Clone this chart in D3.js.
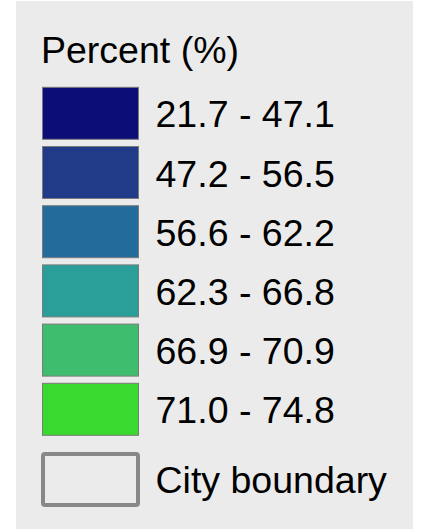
<!DOCTYPE html>
<html><head><meta charset="utf-8">
<script src="https://cdn.jsdelivr.net/npm/d3@7"></script>
<style>html,body{margin:0;padding:0;background:#fff;}svg{display:block;}</style>
</head><body>
<script>
const title = "Percent (%)";
const classLabels = ["21.7 - 47.1","47.2 - 56.5","56.6 - 62.2","62.3 - 66.8","66.9 - 70.9","71.0 - 74.8"];
const classColors = ["#0d0d78","#213b89","#226c9c","#2a9e99","#3fbd6e","#3ad92f"];
const boundaryLabel = "City boundary";

const W = 425, H = 529;
const svg = d3.select("body").append("svg").attr("width", W).attr("height", H);
svg.append("rect").attr("x",16).attr("y",1).attr("width",397).attr("height",H-1).attr("fill","#ebebeb");

const font = "'Liberation Sans', Arial, sans-serif";
const fs = 37.5;
svg.append("text").attr("x",41).attr("y",63).attr("font-family",font).attr("font-size",fs).attr("fill","#000").text(title);

const items = classLabels.map((l,i)=>({label:l,color:classColors[i]}));
const y = d3.scaleBand().domain(d3.range(items.length + 1)).range([87.3, 87.3 + 59.2*(items.length+1)]).paddingInner(0).paddingOuter(0);

const g = svg.append("g");
g.selectAll("rect.sw").data(items).join("rect").attr("class","sw")
  .attr("x",42.5).attr("y",(d,i)=>y(i)).attr("width",96).attr("height",52)
  .attr("fill",d=>d.color).attr("stroke","#7a7a7a").attr("stroke-width",1);
g.selectAll("text.lb").data(items).join("text").attr("class","lb")
  .attr("x",155.5).attr("y",(d,i)=>y(i)+26+14)
  .attr("font-family",font).attr("font-size",fs).attr("fill","#000").text(d=>d.label);

svg.append("rect").attr("x",43).attr("y",454).attr("width",95).attr("height",51).attr("rx",2)
  .attr("fill","#ebebeb").attr("stroke","#888").attr("stroke-width",4);
svg.append("text").attr("x",155.5).attr("y",493).attr("font-family",font).attr("font-size",fs).attr("fill","#000").text(boundaryLabel);
</script>
</body></html>
